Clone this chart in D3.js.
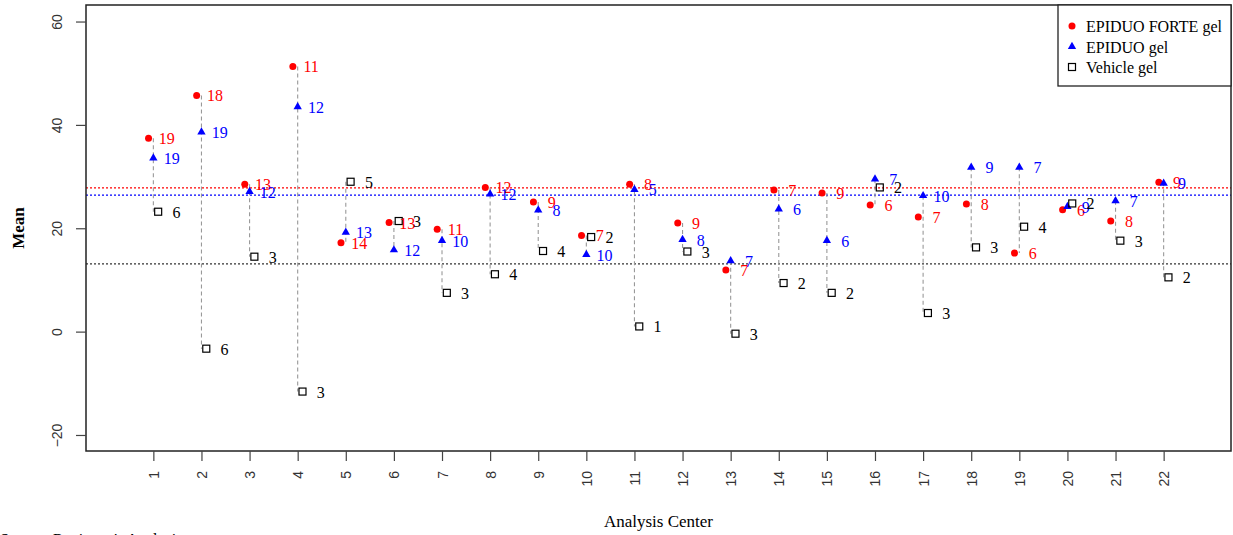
<!DOCTYPE html>
<html>
<head>
<meta charset="utf-8">
<script src="https://cdn.jsdelivr.net/npm/d3@7"></script>
<style>
  body { margin: 0; background: #fff; }
  svg { display: block; }
</style>
</head>
<body>
<div id="chart"></div>
<script>
// Values
var centers = [1, 2, 3, 4, 5, 6, 7, 8, 9, 10, 11, 12, 13, 14, 15, 16, 17, 18, 19, 20, 21, 22];
var forte    = [37.4, 45.7, 28.5, 51.3, 17.2, 21.1, 19.8, 27.9, 25.1, 18.6, 28.5, 21.0, 11.9, 27.4, 26.8, 24.5, 22.2, 24.7, 15.2, 23.6, 21.4, 28.9];
var forteN   = [19, 18, 13, 11, 14, 13, 11, 12, 9, 7, 8, 9, 7, 7, 9, 6, 7, 8, 6, 6, 8, 9];
var epiduo   = [33.6, 38.6, 27.1, 43.5, 19.2, 15.8, 17.6, 26.6, 23.5, 14.9, 27.5, 17.8, 13.7, 23.7, 17.6, 29.5, 26.3, 31.8, 31.8, 24.2, 25.3, 28.7];
var epiduoN  = [19, 19, 12, 12, 13, 12, 10, 12, 8, 10, 5, 8, 7, 6, 6, 7, 10, 9, 7, 9, 7, 9];
var vehicle  = [23.2, -3.3, 14.5, -11.6, 29.0, 21.4, 7.5, 11.1, 15.6, 18.3, 1.0, 15.5, -0.4, 9.4, 7.5, 27.9, 3.6, 16.3, 20.3, 24.8, 17.6, 10.5];
var vehicleN = [6, 6, 3, 3, 5, 3, 3, 4, 4, 2, 1, 3, 3, 2, 2, 2, 3, 3, 4, 2, 3, 2];
var overallMeans = [27.8, 26.4, 13.1];
var yTicks = [-20, 0, 20, 40, 60];
var legendLabels = ["EPIDUO FORTE gel", "EPIDUO gel", "Vehicle gel"];

(function() {
  var W = 1233, H = 535;
  var box = {left: 86, top: 5, right: 1231, bottom: 451};

  var svg = d3.select("#chart").append("svg")
      .attr("width", W).attr("height", H);

  var x = d3.scaleLinear().domain([-0.4, 23.4]).range([box.left, box.right]);
  var y = d3.scaleLinear().domain([-23.1, 63.2]).range([box.bottom, box.top]);

  var serif = "'Liberation Serif', 'Times New Roman', serif";
  var sans = "'Liberation Sans', Arial, sans-serif";

  var series = [
    {vals: forte,   ns: forteN,   dx: -0.1, color: "#ff0000", shape: "circle"},
    {vals: epiduo,  ns: epiduoN,  dx: 0,    color: "#0000ff", shape: "triangle"},
    {vals: vehicle, ns: vehicleN, dx: 0.1,  color: "#000000", shape: "square"}
  ];
  var lineColors = ["#ff0000", "#0000ff", "#333333"];

  // overall mean reference lines
  svg.selectAll(".ref").data(overallMeans).enter().append("line")
      .attr("x1", box.left).attr("x2", box.right)
      .attr("y1", function(d) { return y(d); })
      .attr("y2", function(d) { return y(d); })
      .attr("stroke", function(d, i) { return lineColors[i]; })
      .attr("stroke-width", 1.3)
      .attr("stroke-dasharray", "2,2");

  // dashed spans per center
  svg.selectAll(".span").data(centers).enter().append("line")
      .attr("x1", function(d) { return x(d); })
      .attr("x2", function(d) { return x(d); })
      .attr("y1", function(d, i) { return y(Math.max(forte[i], epiduo[i], vehicle[i])); })
      .attr("y2", function(d, i) { return y(Math.min(forte[i], epiduo[i], vehicle[i])); })
      .attr("stroke", "#999")
      .attr("stroke-width", 1.1)
      .attr("stroke-dasharray", "4,3");

  // points
  series.forEach(function(s) {
    var g = svg.append("g");
    var pts = g.selectAll("path").data(centers).enter();
    if (s.shape === "circle") {
      pts.append("circle")
        .attr("cx", function(d) { return x(d + s.dx); })
        .attr("cy", function(d, i) { return y(s.vals[i]); })
        .attr("r", 3.5)
        .attr("fill", s.color);
    } else if (s.shape === "triangle") {
      pts.append("path")
        .attr("d", d3.symbol(d3.symbolTriangle, 30))
        .attr("transform", function(d, i) { return "translate(" + x(d + s.dx) + "," + y(s.vals[i]) + ")"; })
        .attr("fill", s.color);
    } else {
      pts.append("rect")
        .attr("x", function(d) { return x(d + s.dx) - 3.5; })
        .attr("y", function(d, i) { return y(s.vals[i]) - 3.5; })
        .attr("width", 7).attr("height", 7)
        .attr("fill", "none")
        .attr("stroke", "#000")
        .attr("stroke-width", 1.2);
    }
  });

  // sample size labels
  series.forEach(function(s) {
    svg.append("g").selectAll("text").data(centers).enter().append("text")
      .attr("x", function(d) { return x(d + s.dx + 0.38); })
      .attr("y", function(d, i) { return y(s.vals[i]) + 6; })
      .attr("text-anchor", "middle")
      .attr("font-family", serif)
      .attr("font-size", 16)
      .attr("fill", s.color)
      .text(function(d, i) { return s.ns[i]; });
  });

  // plot box
  svg.append("rect")
      .attr("x", box.left).attr("y", box.top)
      .attr("width", box.right - box.left).attr("height", box.bottom - box.top)
      .attr("fill", "none").attr("stroke", "#222").attr("stroke-width", 1.5);

  // y axis
  var yAxis = svg.append("g")
      .attr("transform", "translate(" + box.left + ",0)")
      .call(d3.axisLeft(y).tickValues(yTicks).tickSize(10).tickSizeOuter(0));
  yAxis.select(".domain").remove();
  yAxis.selectAll(".tick line").attr("stroke", "#444").attr("stroke-width", 1.2);
  yAxis.selectAll(".tick text")
      .attr("font-family", sans).attr("font-size", 14).attr("fill", "#333")
      .attr("x", null).attr("dy", null)
      .attr("text-anchor", "middle")
      .attr("dominant-baseline", "central")
      .attr("transform", "translate(-29,0) rotate(-90)");

  // x axis
  var xAxis = svg.append("g")
      .attr("transform", "translate(0," + box.bottom + ")")
      .call(d3.axisBottom(x).tickValues(centers).tickSize(10).tickSizeOuter(0).tickFormat(d3.format("d")));
  xAxis.select(".domain").remove();
  xAxis.selectAll(".tick line").attr("stroke", "#444").attr("stroke-width", 1.2);
  xAxis.selectAll(".tick text")
      .attr("font-family", sans).attr("font-size", 14).attr("fill", "#333")
      .attr("y", null).attr("dy", null)
      .attr("text-anchor", "end")
      .attr("dominant-baseline", "central")
      .attr("transform", "translate(0,20) rotate(-90)");

  // axis titles
  svg.append("text")
      .attr("transform", "translate(18," + ((box.top + box.bottom) / 2) + ") rotate(-90)")
      .attr("text-anchor", "middle")
      .attr("dominant-baseline", "central")
      .attr("font-family", serif).attr("font-size", 17).attr("font-weight", "bold")
      .text("Mean");

  svg.append("text")
      .attr("x", (box.left + box.right) / 2).attr("y", 527)
      .attr("text-anchor", "middle")
      .attr("font-family", serif).attr("font-size", 17)
      .text("Analysis Center");

  svg.append("text")
      .attr("x", 0).attr("y", 545)
      .attr("font-family", serif).attr("font-size", 16)
      .text("Source: Reviewer's Analysis");

  // legend
  var leg = svg.append("g");
  leg.append("rect")
      .attr("x", 1058).attr("y", box.top)
      .attr("width", box.right - 1058).attr("height", 86 - box.top)
      .attr("fill", "#fff").attr("stroke", "#222").attr("stroke-width", 1.3);
  var rows = leg.selectAll(".row").data(legendLabels).enter().append("g")
      .attr("transform", function(d, i) { return "translate(1072," + (26 + i * 20.5) + ")"; });
  rows.each(function(d, i) {
    var r = d3.select(this);
    var s = series[i];
    if (s.shape === "circle") {
      r.append("circle").attr("r", 3.5).attr("fill", s.color);
    } else if (s.shape === "triangle") {
      r.append("path").attr("d", d3.symbol(d3.symbolTriangle, 30)).attr("fill", s.color);
    } else {
      r.append("rect").attr("x", -3.5).attr("y", -3.5).attr("width", 7).attr("height", 7)
        .attr("fill", "none").attr("stroke", "#000").attr("stroke-width", 1.2);
    }
    r.append("text")
      .attr("x", 14).attr("y", 6)
      .attr("font-family", serif).attr("font-size", 16)
      .attr("fill", "#000")
      .text(d);
  });
})();
</script>
</body>
</html>
